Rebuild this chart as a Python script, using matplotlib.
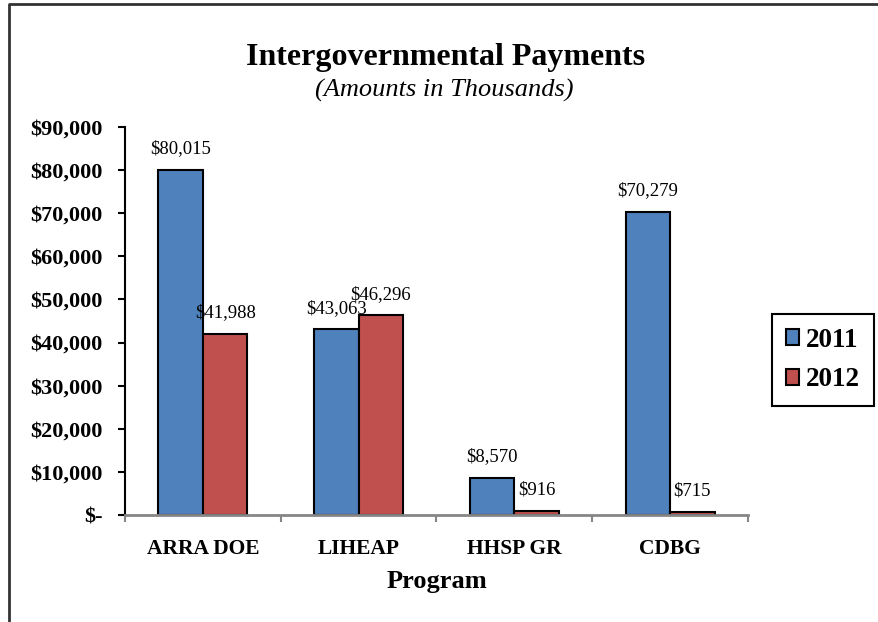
import matplotlib.pyplot as plt
import matplotlib.ticker as mticker
from matplotlib.lines import Line2D
import numpy as np

programs = ['ARRA DOE', 'LIHEAP', 'HHSP GR', 'CDBG']
years = ['2011', '2012']
pay_2011 = [80015, 43063, 8570, 70279]
pay_2012 = [41988, 46296, 916, 715]
yticks = np.arange(0, 90001, 10000)

plt.rcParams['font.family'] = ['Liberation Serif', 'DejaVu Serif']

fig = plt.figure(figsize=(8.79, 6.22), dpi=100)
ax = fig.add_axes([125/879, 1 - 515/622, (748 - 125)/879, (515 - 127)/622])

x = np.arange(len(programs))
w = 0.286
b1 = ax.bar(x - w/2, pay_2011, w, color='#4F81BD', edgecolor='black', linewidth=1.5, label=years[0])
b2 = ax.bar(x + w/2, pay_2012, w, color='#C0504D', edgecolor='black', linewidth=1.5, label=years[1])

fmt = lambda v: '${:,.0f}'.format(v)
ax.bar_label(b1, labels=[fmt(v) for v in pay_2011], padding=9, fontsize=13.5)
ax.bar_label(b2, labels=[fmt(v) for v in pay_2012], padding=9, fontsize=13.5)

ax.set_xlim(-0.5, len(programs) - 0.5)
ax.set_ylim(0, 90000)
ax.set_yticks(yticks)
ax.yaxis.set_major_formatter(mticker.FuncFormatter(lambda v, p: '$-' if v == 0 else '${:,.0f}'.format(v)))
ax.tick_params(axis='y', length=5, width=1.5, pad=11, labelsize=16)
for t in ax.get_yticklabels():
    t.set_fontweight('bold')

ax.set_xticks(x)
ax.set_xticklabels(programs, fontsize=15.5, fontweight='bold')
ax.set_xticks(np.arange(len(programs) + 1) - 0.5, minor=True)
ax.tick_params(axis='x', which='major', length=0, pad=17)
ax.tick_params(axis='x', which='minor', length=5, width=1.5, color='#868686')

for s in ['top', 'right']:
    ax.spines[s].set_visible(False)
ax.spines['left'].set_linewidth(1.5)
ax.spines['bottom'].set_color('#868686')
ax.spines['bottom'].set_linewidth(2)

ax.set_xlabel('Program', fontsize=19, fontweight='bold', labelpad=8)

fig.text(446/879, 1 - 57/622, 'Intergovernmental Payments', ha='center', va='center',
         fontsize=23, fontweight='bold')
fig.text(444/879, 1 - 90/622, '(Amounts in Thousands)', ha='center', va='center',
         fontsize=19, style='italic')

leg = ax.legend(loc='center', bbox_to_anchor=(823/879, 1 - 360/622), bbox_transform=fig.transFigure,
                prop={'size': 19.5, 'weight': 'bold'}, fancybox=False, framealpha=1,
                handlelength=0.5, handleheight=0.5, handletextpad=0.25, labelspacing=0.55,
                borderpad=0.5)
leg.get_frame().set_edgecolor('black')
leg.get_frame().set_linewidth(1.5)

fig.add_artist(Line2D([9/879, 9/879, 1.0], [0.0, 1 - 4/622, 1 - 4/622],
                      transform=fig.transFigure, color='#333333', linewidth=2))

fig.savefig('out.png', dpi=100)
